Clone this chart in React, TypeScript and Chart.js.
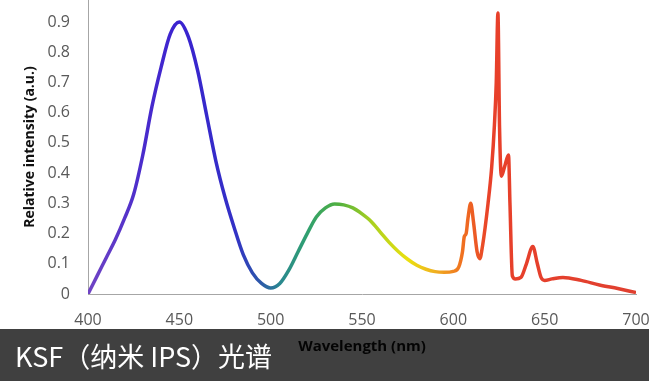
import { useEffect, useRef } from "react";
import { Chart, registerables } from "chart.js";

Chart.register(...registerables);

// ---- data ----
const wavelengths = [
  400, 405, 410, 415, 420, 425, 430, 435, 440, 445, 450, 455, 460, 465, 470, 475, 480, 485, 490, 495,
  500, 505, 510, 515, 520, 525, 530, 535, 540, 545, 550, 555, 560, 565, 570, 575, 580, 585, 590, 595,
  600, 603, 605, 606, 607, 608, 609.5, 611, 613, 614.5, 616, 619, 621, 622.5, 623.5, 624.4, 625.3, 626.3,
  628, 630.2, 631, 632.3, 634, 637, 640, 643.5, 646, 648, 650, 654, 660, 670, 680, 690, 700,
];
const intensity = [
  0, 0.06, 0.12, 0.18, 0.25, 0.33, 0.46, 0.62, 0.75, 0.86, 0.9, 0.85, 0.74, 0.59, 0.44, 0.32, 0.22, 0.13, 0.07, 0.035,
  0.02, 0.035, 0.08, 0.14, 0.2, 0.255, 0.285, 0.298, 0.295, 0.285, 0.265, 0.24, 0.205, 0.17, 0.14, 0.115, 0.095, 0.082, 0.074, 0.072,
  0.075, 0.09, 0.14, 0.19, 0.2, 0.25, 0.3, 0.24, 0.14, 0.117, 0.16, 0.3, 0.42, 0.56, 0.7, 0.93, 0.55, 0.39,
  0.42, 0.46, 0.3, 0.06, 0.05, 0.055, 0.1, 0.157, 0.1, 0.055, 0.045, 0.05, 0.055, 0.045, 0.03, 0.018, 0.005,
];
const xTickValues = [400, 450, 500, 550, 600, 650, 700];
const yTickValues = [0, 0.1, 0.2, 0.3, 0.4, 0.5, 0.6, 0.7, 0.8, 0.9];
const xTitle = "Wavelength (nm)";
const yTitle = "Relative intensity (a.u.)";
const caption = "KSF（纳米 IPS）光谱";

// colour of the curve along the wavelength axis
const stopWavelengths = [400, 430, 450, 480, 495, 505, 520, 537, 555, 575, 590, 605, 620, 700];
const stopColors = [
  "#7044c4", "#4a2ccc", "#3a22d0", "#3330c6", "#2c5aa8", "#2a8890", "#30a070", "#50b040",
  "#a8d020", "#eae010", "#f0b020", "#f07020", "#e8402a", "#e04030",
];

function clearPadding(s: any) {
  s.paddingTop = 0;
  s.paddingBottom = 0;
  s.paddingLeft = 0;
  s.paddingRight = 0;
}

export default function App() {
  const canvasRef = useRef<HTMLCanvasElement | null>(null);

  useEffect(() => {
    document.body.style.margin = "0";
    const canvas = canvasRef.current;
    if (!canvas) return;
    const points = wavelengths.map((w, i) => ({ x: w, y: intensity[i] }));
    const tickFont = { family: "'Open Sans'", size: 16 };

    const chart = new Chart(canvas, {
      type: "line",
      data: {
        datasets: [
          {
            data: points,
            borderWidth: 3.5,
            pointRadius: 0,
            fill: false,
            cubicInterpolationMode: "monotone",
            borderColor: (ctx: any) => {
              const ch = ctx.chart;
              const area = ch.chartArea;
              if (!area) return "#e8402a";
              const xs = ch.scales.x;
              const x0 = xs.getPixelForValue(400);
              const x1 = xs.getPixelForValue(700);
              const g = ch.ctx.createLinearGradient(x0, 0, x1, 0);
              stopWavelengths.forEach((w, i) => g.addColorStop((w - 400) / 300, stopColors[i]));
              return g;
            },
          },
        ],
      },
      options: {
        animation: false,
        responsive: false,
        devicePixelRatio: 1,
        layout: { autoPadding: false, padding: { top: 0, right: 13, left: 0, bottom: 0 } },
        plugins: { legend: { display: false }, tooltip: { enabled: false } },
        scales: {
          x: {
            type: "linear",
            min: 400,
            max: 700,
            grid: { display: false, drawTicks: false },
            border: { display: true, color: "#a6a6a6", width: 1 },
            afterBuildTicks: (s: any) => {
              s.ticks = xTickValues.map((v) => ({ value: v }));
            },
            afterFit: (s: any) => {
              s.height = 87;
              clearPadding(s);
            },
            ticks: {
              color: "#595959",
              font: tickFont,
              padding: 17,
              maxRotation: 0,
              callback: (v: any) => String(v),
            },
            title: {
              display: true,
              text: xTitle,
              color: "#111111",
              font: { family: "'Open Sans'", size: 15, weight: "bold" },
              padding: { top: 0, bottom: 25 },
            },
          },
          y: {
            type: "linear",
            min: 0,
            max: 0.973,
            grid: { display: false, drawTicks: false },
            border: { display: true, color: "#a6a6a6", width: 1 },
            afterBuildTicks: (s: any) => {
              s.ticks = yTickValues.map((v) => ({ value: v }));
            },
            afterFit: (s: any) => {
              s.width = 88;
              clearPadding(s);
            },
            ticks: {
              color: "#595959",
              font: tickFont,
              padding: 18,
              callback: (v: any) => (v === 0 ? "0" : Number(v).toFixed(1)),
            },
            title: {
              display: true,
              text: yTitle,
              color: "#111111",
              font: { family: "'Open Sans'", size: 14, weight: "bold" },
              padding: { top: 22, bottom: 0 },
            },
          },
        },
      },
    });
    return () => chart.destroy();
  }, []);

  return (
    <div style={{ position: "fixed", left: 0, top: 0, width: 649, height: 381, background: "#fff", overflow: "hidden" }}>
      <canvas ref={canvasRef} width={649} height={381} style={{ display: "block" }} />
      <div
        style={{
          position: "absolute",
          left: 0,
          top: 329,
          width: 649,
          height: 52,
          background: "rgba(0,0,0,0.75)",
          color: "#ffffff",
          fontFamily: "'Noto Sans CJK SC', 'Noto Sans', sans-serif",
          fontSize: 27,
          lineHeight: "54px",
          paddingLeft: 15,
          boxSizing: "border-box",
          whiteSpace: "nowrap",
        }}
      >
        {caption}
      </div>
    </div>
  );
}
